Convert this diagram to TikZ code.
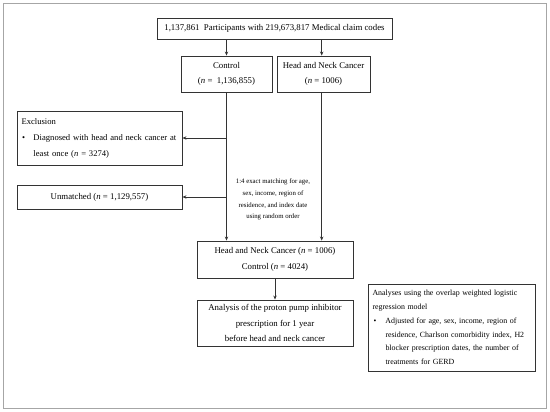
\documentclass[tikz,border=0pt]{standalone}
\usepackage{fontspec}
\setmainfont{Liberation Serif}
\usetikzlibrary{arrows.meta}
\tikzset{
  box/.style={draw=black!80, line width=0.9pt, rectangle, inner sep=0pt, align=center,
    font=\fontsize{8.8}{15.7}\selectfont},
  lbox/.style={draw=black!80, line width=0.9pt, rectangle, inner sep=4.5pt, align=left},
  arr/.style={draw=black!80, line width=0.9pt, -{Stealth[length=4pt,width=3.4pt]}},
}
\begin{document}
\begin{tikzpicture}[x=1pt,y=-1pt]
\useasboundingbox (0,0) rectangle (550,412);
\draw[black!35, line width=1pt] (3.5,3.5) rectangle (546.5,408.5);

\node[box, minimum width=235pt, minimum height=21pt] (top) at (274.5,28.5)
  {1,137,861\ \ Participants with 219,673,817 Medical claim codes};
\node[box, minimum width=91pt, minimum height=36pt] (ctl) at (226.5,74)
  {Control\\(\textit{n} =\ \ 1,136,855)};
\node[box, minimum width=93pt, minimum height=36pt] (hnc) at (323.5,74)
  {Head and Neck Cancer\\(\textit{n} =\ 1006)};
\node[lbox, text width=156pt, minimum height=54pt, font=\fontsize{8.6}{16}\selectfont] (excl) at (99.5,138)
  {Exclusion\\\makebox[12pt][l]{\hspace{0.5pt}•}Diagnosed with head and neck cancer at\\\hspace*{12pt}least once (\textit{n} = 3274)};
\node[box, minimum width=165pt, minimum height=24pt] (unm) at (99.5,197)
  {Unmatched (\textit{n} = 1,129,557)};
\node[box, minimum width=156pt, minimum height=37pt] (comb) at (275,259.5)
  {Head and Neck Cancer (\textit{n} = 1006)\\Control (\textit{n} = 4024)};
\node[box, minimum width=156pt, minimum height=46pt] (ana) at (275,323)
  {Analysis of the proton pump inhibitor\\prescription for 1 year\\before head and neck cancer};
\node[lbox, text width=158pt, minimum height=87pt, font=\fontsize{7.9}{13.8}\selectfont] (adj) at (451.5,327.5)
  {Analyses using the overlap weighted logistic\\regression model\\\makebox[13pt][l]{\hspace{1pt}•}Adjusted for age, sex, income, region of\\\hspace*{13pt}residence, Charlson comorbidity index, H2\\\hspace*{13pt}blocker prescription dates, the number of\\\hspace*{13pt}treatments for GERD};
\node[align=center, font=\fontsize{6.8}{11.7}\selectfont] (match) at (273,199.5)
  {1:4 exact matching for age,\\sex, income, region of\\residence, and index date\\using random order};

\coordinate (hx) at (321.7,92);
\draw[arr] (top.south -| ctl.north) -- (ctl.north);
\draw[arr] (top.south -| hx) -- (hx |- hnc.north);
\draw[arr] (ctl.south) -- (ctl.south |- comb.north);
\draw[arr] (hx |- hnc.south) -- (hx |- comb.north);
\draw[arr] (ctl.south |- excl.east) -- (excl.east);
\draw[arr] (ctl.south |- unm.east) -- (unm.east);
\draw[arr] (comb.south) -- (ana.north);
\end{tikzpicture}
\end{document}
